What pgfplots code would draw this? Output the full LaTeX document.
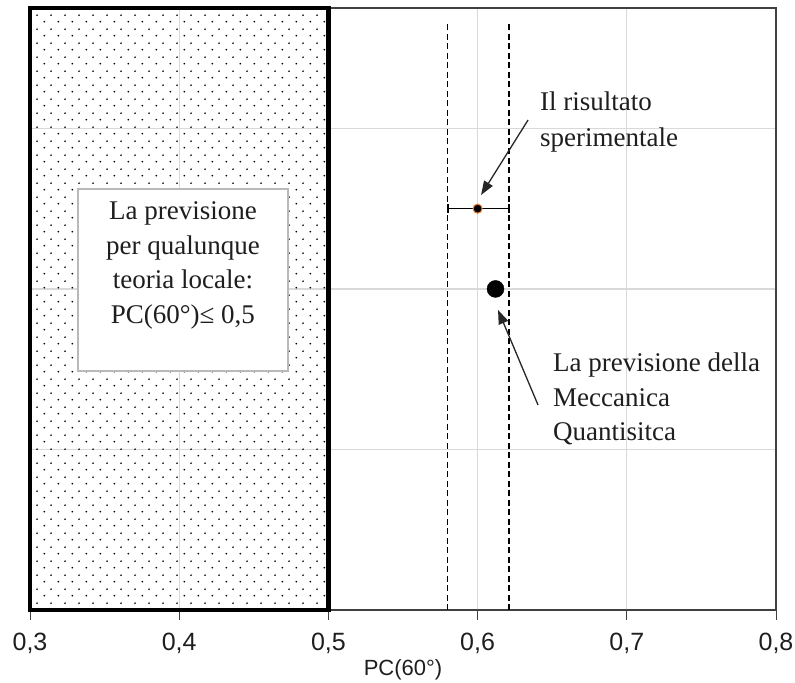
\documentclass[border=0pt]{standalone}
\usepackage{fontspec}
\setmainfont{Liberation Serif}
\newfontfamily\sansf{Liberation Sans}
\usepackage{pgfplots}
\pgfplotsset{compat=1.18}
\usetikzlibrary{patterns,arrows.meta}
\pgfdeclarepatternformonly{sparsedots}{\pgfpointorigin}{\pgfpoint{13.7pt}{14pt}}{\pgfpoint{13.7pt}{14pt}}{%
 \pgfpathcircle{\pgfpoint{3.4pt}{3.5pt}}{0.95pt}%
 \pgfpathcircle{\pgfpoint{10.25pt}{10.5pt}}{0.95pt}%
 \pgfusepath{fill}}
\definecolor{gridc}{RGB}{217,217,217}
\definecolor{axc}{RGB}{64,64,64}
\definecolor{orng}{RGB}{230,120,40}
\definecolor{txt}{RGB}{30,30,30}
\begin{document}
\begin{tikzpicture}
\begin{axis}[
 scale only axis, width=746pt, height=602pt,
 xmin=0.3, xmax=0.8, ymin=0, ymax=3.75,
 xtick={0.3,0.4,0.5,0.6,0.7,0.8},
 ytick={1,2,3}, yticklabels={}, ytick style={draw=none},
 xmajorgrids, ymajorgrids, grid style={gridc, line width=1.2pt},
 axis line style={axc, line width=1.2pt},
 xtick pos=left, xtick align=outside, major tick length=10pt,
 xtick style={axc, line width=1pt},
 xticklabel style={font=\sansf\fontsize{25}{30}\selectfont, inner sep=0pt, anchor=base, yshift=-30pt, text=txt},
 /pgf/number format/use comma, /pgf/number format/fixed, /pgf/number format/fixed zerofill, /pgf/number format/precision=1, /pgf/number format/assume math mode=true,
 xlabel={PC(60°)},
 xlabel style={font=\sansf\fontsize{22}{26}\selectfont, at={(axis description cs:0.5,0)}, anchor=base, yshift=-65pt, text=txt},
 clip=false,
]
\addplot[draw=black, line width=4.5pt, pattern=sparsedots, pattern color=black, line join=miter] coordinates {(0.3,3.75) (0.5,3.75)} \closedcycle;
\draw[fill=white, draw=gray!55, line width=1.2pt] (axis cs:0.3322,1.4888) rectangle (axis cs:0.4729,2.6226);
\addplot[black, line width=1.2pt, dash pattern=on 6pt off 3.5pt] coordinates {(0.58,0) (0.58,3.66)};
\addplot[black, line width=1.2pt, dash pattern=on 6pt off 3.5pt] coordinates {(0.621,0) (0.621,3.66)};
\addplot[black, line width=1.2pt, mark=*, mark size=4.5pt, mark options={fill=black, draw=orng, line width=1pt},
  error bars/.cd, x dir=both, x explicit, error bar style={black, line width=1.2pt},
  error mark=|, error mark options={black, mark size=4.5pt, line width=1.5pt}]
  coordinates {(0.6,2.5) += (0.021,0) -= (0.02,0)};
\addplot[only marks, mark=*, mark size=8.5pt, black] coordinates {(0.612,2)};
\draw[black!85, line width=1.3pt, -{Triangle[length=14pt,width=10pt]}] (axis cs:0.6338,3.052) -- (axis cs:0.6023,2.585);
\draw[black!85, line width=1.3pt, -{Triangle[length=14pt,width=10pt]}] (axis cs:0.6405,1.277) -- (axis cs:0.6137,1.869);
\begin{scope}[every node/.style={font=\fontsize{27}{30}\selectfont, text=txt, inner sep=0pt}]
\node[anchor=base west] at (axis cs:0.6418,3.110) {Il risultato};
\node[anchor=base west] at (axis cs:0.6418,2.886) {sperimentale};
\node[anchor=base west] at (axis cs:0.6505,1.4845) {La previsione della};
\node[anchor=base west] at (axis cs:0.6505,1.2664) {Meccanica};
\node[anchor=base west] at (axis cs:0.6505,1.059) {Quantisitca};
\node[anchor=base] at (axis cs:0.4025,2.4326) {La previsione};
\node[anchor=base] at (axis cs:0.4025,2.2170) {per qualunque};
\node[anchor=base] at (axis cs:0.4025,2.0015) {teoria locale:};
\node[anchor=base] at (axis cs:0.4025,1.7859) {PC(60°)≤ 0,5};
\end{scope}
\end{axis}
\path (current axis.south west) ++(-30pt,-72pt) rectangle ([xshift=19pt,yshift=8pt]current axis.north east);
\end{tikzpicture}
\end{document}
